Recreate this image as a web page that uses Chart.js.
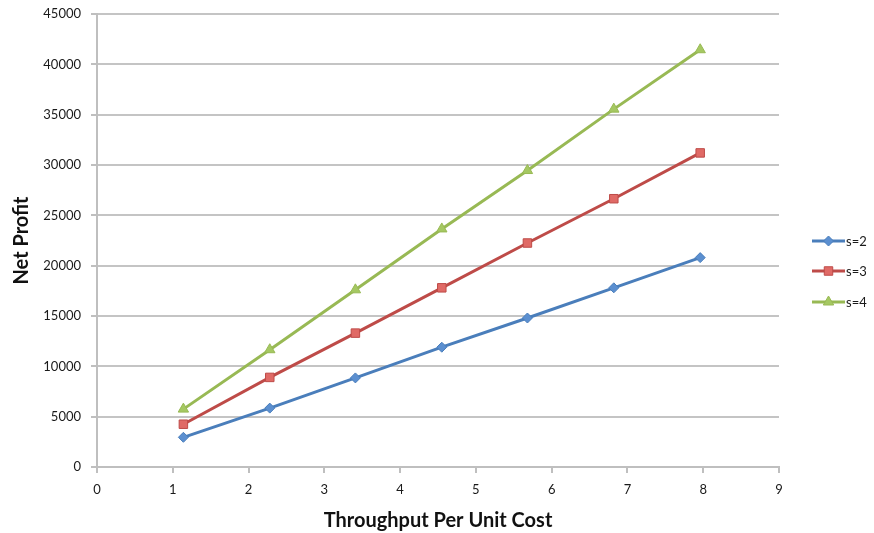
<!DOCTYPE html>
<html>
<head>
<meta charset="utf-8">
<script src="https://cdn.jsdelivr.net/npm/chart.js@4/dist/chart.umd.min.js"></script>
<style>
  html, body { margin: 0; padding: 0; background: #fff; }
  #wrap { width: 874px; height: 533px; position: relative; }
</style>
</head>
<body>
<div id="wrap"><canvas id="c" width="874" height="533"></canvas></div>
<script>
// Throughput per unit cost (x) and net profit for each server count s
const throughput = [1.14, 2.28, 3.41, 4.55, 5.68, 6.82, 7.96];
const profitS2 = [2950, 5850, 8850, 11900, 14800, 17800, 20800];
const profitS3 = [4250, 8900, 13300, 17800, 22250, 26650, 31200];
const profitS4 = [5750, 11650, 17600, 23650, 29450, 35550, 41450];
const seriesNames = ['s=2', 's=3', 's=4'];

const lineColors = ['#4a7ebb', '#be4b48', '#98b954'];
const markerFills = ['#5b8fd0', '#e06a66', '#a5c862'];
const markerStyles = ['rectRot', 'rect', 'triangle'];
const markerRadius = [5, 6, 6];

const FONT = 'Lato, "Open Sans", sans-serif';

function pts(ys) { return throughput.map((x, i) => ({ x: x, y: ys[i] })); }

const seriesData = [profitS2, profitS3, profitS4];
const datasets = seriesData.map((ys, i) => ({
  label: seriesNames[i],
  data: pts(ys),
  borderColor: lineColors[i],
  backgroundColor: markerFills[i],
  borderWidth: 3,
  pointStyle: markerStyles[i],
  pointRadius: markerRadius[i],
  pointBorderColor: lineColors[i],
  pointBorderWidth: 1,
  pointBackgroundColor: markerFills[i],
  tension: 0
}));

// Legend on the right: a short line segment with the series marker, then its label
const sideLegend = {
  id: 'sideLegend',
  afterDraw(chart) {
    const ctx = chart.ctx;
    const x0 = 812, x1 = 845, ys = [241, 271, 302];
    chart.data.datasets.forEach((ds, i) => {
      const y = ys[i];
      ctx.save();
      ctx.strokeStyle = ds.borderColor;
      ctx.lineWidth = 3;
      ctx.beginPath();
      ctx.moveTo(x0, y);
      ctx.lineTo(x1, y);
      ctx.stroke();
      ctx.fillStyle = ds.pointBackgroundColor;
      ctx.strokeStyle = ds.pointBorderColor;
      ctx.lineWidth = 1;
      Chart.helpers.drawPoint(ctx, { pointStyle: ds.pointStyle, radius: ds.pointRadius, borderWidth: 1 }, (x0 + x1) / 2, y);
      ctx.fillStyle = '#1a1a1a';
      ctx.font = '13px ' + FONT;
      ctx.textBaseline = 'middle';
      ctx.textAlign = 'left';
      ctx.fillText(ds.label, x1 + 1, y + 1);
      ctx.restore();
    });
  }
};

new Chart(document.getElementById('c'), {
  type: 'line',
  data: { datasets: datasets },
  options: {
    responsive: false,
    animation: false,
    layout: { padding: { left: 0, right: 95, top: 14, bottom: 0 } },
    plugins: { legend: { display: false }, tooltip: { enabled: false } },
    scales: {
      x: {
        type: 'linear',
        min: 0, max: 9,
        ticks: { stepSize: 1, color: '#1a1a1a', font: { family: FONT, size: 13 }, padding: 9,
                 callback: v => String(v) },
        grid: { drawOnChartArea: false, color: '#bfbfbf', lineWidth: 2, tickLength: 6, tickColor: '#bfbfbf' },
        border: { color: '#bfbfbf', width: 2 },
        title: { display: true, text: 'Throughput Per Unit Cost', color: '#111',
                 font: { family: FONT, size: 20, weight: 'bold' }, padding: { top: 10, bottom: 0 } },
        afterFit(s) { s.height = 66; }
      },
      y: {
        min: 0, max: 45000,
        ticks: { stepSize: 5000, color: '#1a1a1a', font: { family: FONT, size: 13 }, padding: 10,
                 callback: v => String(v) },
        grid: { color: '#c4c4c4', lineWidth: 2, tickLength: 6, tickColor: '#bfbfbf' },
        border: { color: '#bfbfbf', width: 2 },
        title: { display: true, text: 'Net Profit', color: '#111',
                 font: { family: FONT, size: 20, weight: 'bold' }, padding: { top: 10, bottom: 4 } },
        afterFit(s) { s.width = 97; s.paddingTop = 0; s.paddingBottom = 0; }
      }
    }
  },
  plugins: [sideLegend]
});
</script>
</body>
</html>
